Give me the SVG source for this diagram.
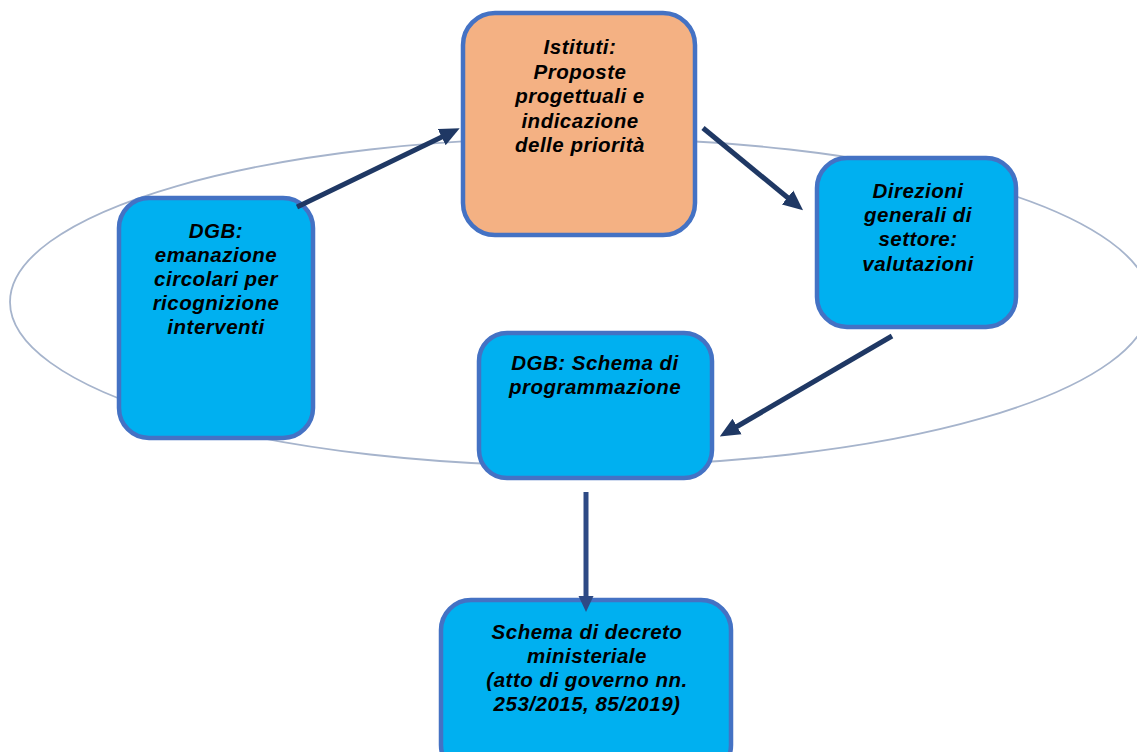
<svg xmlns="http://www.w3.org/2000/svg" width="1137" height="752" viewBox="0 0 1137 752">
<style>
.box{fill:#00B0F0;stroke:#4472C4;stroke-width:4.5}
.peach{fill:#F4B183}
.t{font-family:"Liberation Sans",Arial,sans-serif;font-size:20.5px;letter-spacing:0.5px;font-weight:bold;font-style:italic;fill:#000;text-anchor:middle}
.conn{stroke:#1F3864;stroke-width:5;fill:none;marker-end:url(#ah)}
</style>
<defs>
<marker id="ah" markerUnits="userSpaceOnUse" markerWidth="20" markerHeight="20" viewBox="0 0 20 20" refX="7" refY="10" orient="auto">
<path d="M0,1 L20,10 L0,19 Z" fill="#1F3864"/>
</marker>
<marker id="ah2" markerUnits="userSpaceOnUse" markerWidth="18" markerHeight="18" viewBox="0 0 18 18" refX="6" refY="9" orient="auto">
<path d="M0,1.5 L16,9 L0,16.5 Z" fill="#2E4A85"/>
</marker>
</defs>
<rect width="1137" height="752" fill="#fff"/>
<ellipse cx="580" cy="302" rx="570" ry="164" fill="none" stroke="#A6B4CC" stroke-width="1.8"/>
<g id="n-istituti">
<rect class="box peach" x="463" y="13" width="232" height="222" rx="32"/>
<text class="t" x="580" y="54">Istituti:</text>
<text class="t" x="580" y="79">Proposte</text>
<text class="t" x="580" y="103">progettuali e</text>
<text class="t" x="580" y="128">indicazione</text>
<text class="t" x="580" y="152">delle priorità</text>
</g>
<g id="n-dgb-circolari">
<rect class="box" x="119" y="198" width="194" height="240" rx="30"/>
<text class="t" x="216" y="238">DGB:</text>
<text class="t" x="216" y="262">emanazione</text>
<text class="t" x="216" y="286">circolari per</text>
<text class="t" x="216" y="310">ricognizione</text>
<text class="t" x="216" y="334">interventi</text>
</g>
<g id="n-direzioni">
<rect class="box" x="817" y="158" width="199" height="169" rx="30"/>
<text class="t" x="918" y="198">Direzioni</text>
<text class="t" x="918" y="222">generali di</text>
<text class="t" x="918" y="246">settore:</text>
<text class="t" x="918" y="271">valutazioni</text>
</g>
<g id="n-dgb-schema">
<rect class="box" x="479" y="333" width="233" height="145" rx="28"/>
<text class="t" x="595" y="370">DGB: Schema di</text>
<text class="t" x="595" y="394">programmazione</text>
</g>
<g id="n-decreto">
<rect class="box" x="441" y="600" width="290" height="175" rx="30"/>
<text class="t" x="587" y="639">Schema di decreto</text>
<text class="t" x="587" y="663">ministeriale</text>
<text class="t" x="587" y="687">(atto di governo nn.</text>
<text class="t" x="587" y="711">253/2015, 85/2019)</text>
</g>
<g id="connectors">
<line class="conn" x1="297" y1="207" x2="448" y2="134"/>
<line class="conn" x1="703" y1="128" x2="793" y2="202"/>
<line class="conn" x1="892" y1="336" x2="731" y2="430"/>
<line x1="586" y1="492" x2="586" y2="602" stroke="#2E4A85" stroke-width="5" marker-end="url(#ah2)"/>
</g>
</svg>
